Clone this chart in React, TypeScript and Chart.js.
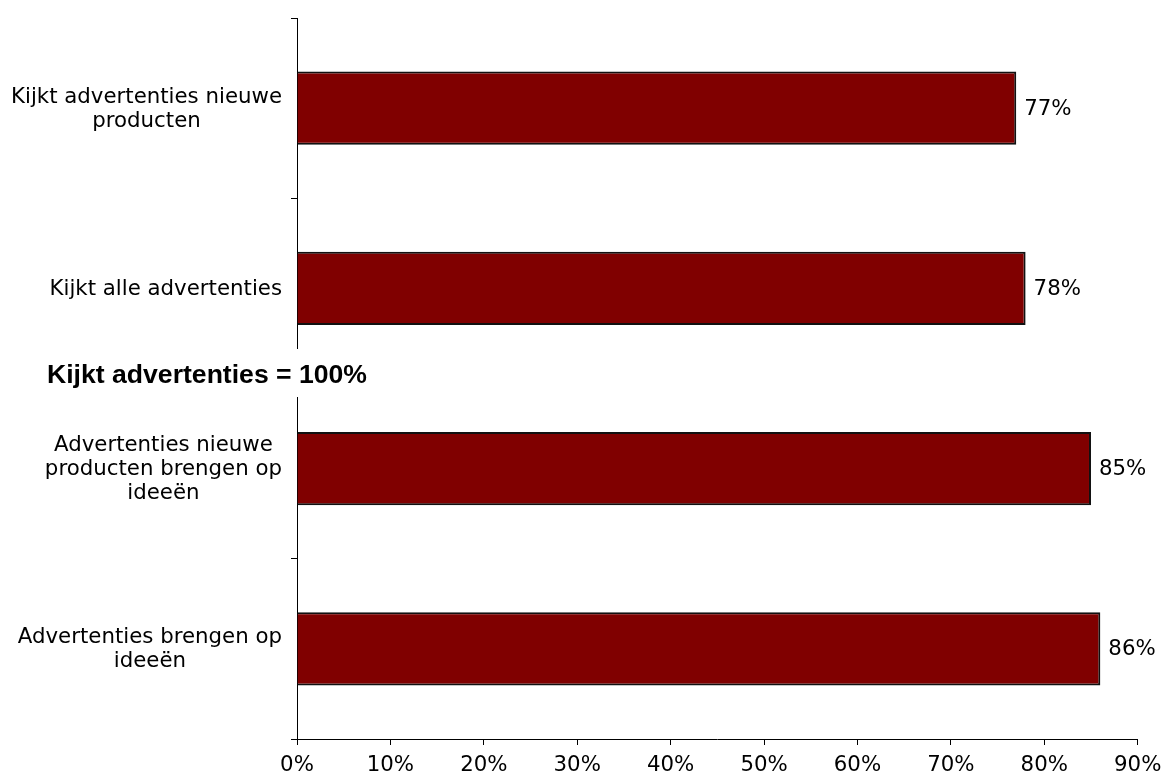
import React, { useEffect, useRef } from "react";
import { Chart, registerables } from "chart.js";

Chart.register(...registerables);

const categories: string[][] = [
  ["Kijkt advertenties nieuwe", "producten"],
  ["Kijkt alle advertenties"],
  ["Advertenties nieuwe", "producten brengen op", "ideeën"],
  ["Advertenties brengen op", "ideeën"],
];
const values: number[] = [77, 78, 85, 86];
const xMin = 0;
const xMax = 90;
const xStep = 10;
const sectionTitle = "Kijkt advertenties = 100%";

const LABEL_FONT = '21.3px "DejaVu Sans"';

const customPlugin = {
  id: "custom",
  afterDraw(chart: any) {
    const ctx = chart.ctx;
    const y = chart.scales.y;
    const meta = chart.getDatasetMeta(0);
    ctx.save();
    ctx.font = LABEL_FONT;
    ctx.fillStyle = "#000";
    ctx.textAlign = "center";
    ctx.textBaseline = "middle";
    const lineH = 24;
    const rightEdge = y.right - 15;
    categories.forEach((lines, i) => {
      const cy = y.getPixelForValue(i);
      const maxW = Math.max(...lines.map((l) => ctx.measureText(l).width));
      const cx = rightEdge - maxW / 2;
      const startY = cy - ((lines.length - 1) * lineH) / 2 + 1;
      lines.forEach((l, j) => ctx.fillText(l, cx, startY + j * lineH));
    });
    ctx.textAlign = "left";
    meta.data.forEach((bar: any, i: number) => {
      ctx.fillText(values[i] + "%", bar.x + 8, bar.y + 1);
    });
    const mid = (y.getPixelForValue(1) + y.getPixelForValue(2)) / 2;
    ctx.fillStyle = "#fff";
    ctx.fillRect(y.right - 12, mid - 29.5, 16, 48);
    ctx.fillStyle = "#000";
    ctx.font = 'bold 26.6px "Liberation Sans"';
    ctx.textBaseline = "alphabetic";
    ctx.fillText(sectionTitle, 47, mid + 4.5);
    ctx.restore();
  },
};

export default function App() {
  const ref = useRef<HTMLCanvasElement | null>(null);
  useEffect(() => {
    if (!ref.current) return;
    const chart = new Chart(ref.current, {
      type: "bar",
      data: {
        labels: categories.map((c) => c.join(" ")),
        datasets: [
          {
            data: values,
            backgroundColor: "#800000",
            borderColor: "#111",
            borderWidth: 2,
            categoryPercentage: 1,
            barPercentage: 0.405,
          },
        ],
      },
      options: {
        indexAxis: "y",
        animation: false,
        responsive: false,
        maintainAspectRatio: false,
        layout: { padding: { top: 18, right: 26.3, left: 0, bottom: 0 } },
        plugins: { legend: { display: false }, tooltip: { enabled: false } },
        scales: {
          x: {
            min: xMin,
            max: xMax,
            ticks: {
              stepSize: xStep,
              color: "#000",
              font: { family: "DejaVu Sans", size: 21.3 },
              padding: 8,
              callback: (v: any) => v + "%",
              maxRotation: 0,
            },
            grid: { drawOnChartArea: false, drawTicks: true, tickLength: 6, color: "#000" },
            border: { display: true, color: "#000" },
            afterFit: (s: any) => {
              s.height = 37;
              s.paddingLeft = 0;
              s.paddingRight = 0;
            },
          },
          y: {
            ticks: { display: false },
            grid: { drawOnChartArea: false, drawTicks: true, tickLength: 6, color: "#000", offset: true },
            border: { display: true, color: "#000" },
            afterFit: (s: any) => {
              s.width = 297;
              s.paddingTop = 0;
              s.paddingBottom = 0;
            },
          },
        },
      },
      plugins: [customPlugin],
    });
    return () => chart.destroy();
  }, []);
  return (
    <div style={{ position: "fixed", left: 0, top: 0, width: 1164, height: 776, background: "#fff" }}>
      <canvas ref={ref} width={1164} height={776} style={{ display: "block" }} />
    </div>
  );
}
